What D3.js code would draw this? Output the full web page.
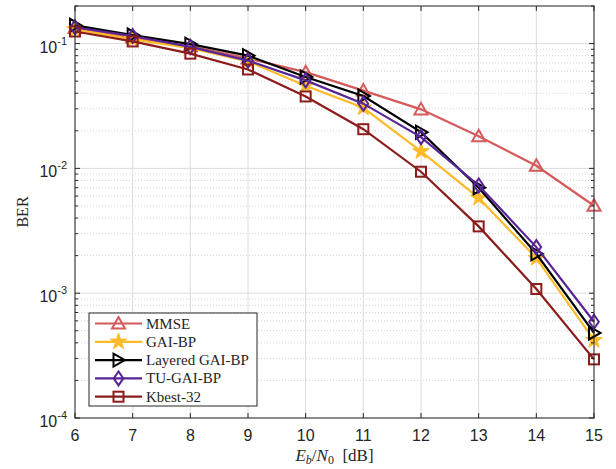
<!DOCTYPE html>
<html>
<head>
<meta charset="utf-8">
<script src="https://cdn.jsdelivr.net/npm/d3@7"></script>
<style>
  body { margin: 0; background: #fff; }
  svg { display: block; }
</style>
</head>
<body>
<svg width="616" height="469"></svg>
<script>
// data
var snr = [6, 7, 8, 9, 10, 11, 12, 13, 14, 15];
var mmse    = [0.133, 0.112, 0.095, 0.076, 0.059, 0.042, 0.0297, 0.0181, 0.0105, 0.00502];
var gaiBP   = [0.130, 0.108, 0.092, 0.072, 0.046, 0.0306, 0.0137, 0.0058, 0.00191, 0.00042];
var layered = [0.140, 0.117, 0.099, 0.080, 0.054, 0.038, 0.0195, 0.0070, 0.00207, 0.00048];
var tuGAI   = [0.135, 0.115, 0.094, 0.073, 0.0507, 0.033, 0.0178, 0.0073, 0.00234, 0.00059];
var kbest   = [0.125, 0.104, 0.083, 0.062, 0.0377, 0.0206, 0.0094, 0.00343, 0.00108, 0.000295];
var seriesNames = ['MMSE', 'GAI-BP', 'Layered GAI-BP', 'TU-GAI-BP', 'Kbest-32'];
var xTicks = [6, 7, 8, 9, 10, 11, 12, 13, 14, 15];
var yTicks = [-4, -3, -2, -1];

var series = [
  {name: seriesNames[0], values: mmse, color: '#d45a5c', marker: 'tri'},
  {name: seriesNames[1], values: gaiBP, color: '#fdbb2a', marker: 'star'},
  {name: seriesNames[2], values: layered, color: '#000000', marker: 'right'},
  {name: seriesNames[3], values: tuGAI, color: '#582596', marker: 'diamond'},
  {name: seriesNames[4], values: kbest, color: '#8c1c1c', marker: 'square'}
];

var svg = d3.select('svg');
var margin = {top: 6, left: 75, right: 22, bottom: 51};
var width = 616, height = 469;
var innerWidth = width - margin.left - margin.right;
var innerHeight = height - margin.top - margin.bottom;

var x = d3.scaleLinear().domain([6, 15]).range([0, innerWidth]);
var y = d3.scaleLog().domain([1e-4, 0.2]).range([innerHeight, 0]);

var g = svg.append('g').attr('transform', 'translate(' + margin.left + ',' + margin.top + ')');

// minor grid (dotted)
var minor = [];
for (var e = -4; e <= -1; e++) {
  for (var m = 2; m <= 9; m++) {
    var v = m * Math.pow(10, e);
    if (v <= 0.2) minor.push(v);
  }
}
g.selectAll('.minor').data(minor).enter().append('line')
  .attr('x1', 0).attr('x2', innerWidth)
  .attr('y1', d => y(d)).attr('y2', d => y(d))
  .attr('stroke', '#c8c8c8').attr('stroke-width', 0.8)
  .attr('stroke-dasharray', '1,2');

// major grid
g.selectAll('.gx').data(xTicks).enter().append('line')
  .attr('x1', d => x(d)).attr('x2', d => x(d))
  .attr('y1', 0).attr('y2', innerHeight)
  .attr('stroke', '#dcdcdc').attr('stroke-width', 1);
g.selectAll('.gy').data(yTicks).enter().append('line')
  .attr('x1', 0).attr('x2', innerWidth)
  .attr('y1', d => y(Math.pow(10, d))).attr('y2', d => y(Math.pow(10, d)))
  .attr('stroke', '#dcdcdc').attr('stroke-width', 1);

// markers
var star = d3.symbol().type(d3.symbolStar).size(85);
function drawMarker(sel, type, color) {
  if (type === 'tri') {
    sel.append('path').attr('d', 'M0,-6.5L6.5,5L-6.5,5Z')
      .attr('fill', 'none').attr('stroke', color).attr('stroke-width', 2);
  } else if (type === 'star') {
    sel.append('path').attr('d', star()).attr('fill', color).attr('stroke', color).attr('stroke-width', 1);
  } else if (type === 'right') {
    sel.append('path').attr('d', 'M6.5,0L-5,-6.5L-5,6.5Z')
      .attr('fill', 'none').attr('stroke', color).attr('stroke-width', 2);
  } else if (type === 'diamond') {
    sel.append('path').attr('d', 'M0,-7L4.8,0L0,7L-4.8,0Z')
      .attr('fill', 'none').attr('stroke', color).attr('stroke-width', 2);
  } else {
    sel.append('rect').attr('x', -5).attr('y', -5).attr('width', 10).attr('height', 10)
      .attr('fill', 'none').attr('stroke', color).attr('stroke-width', 2);
  }
}

var line = d3.line().x((d, i) => x(snr[i])).y(d => y(d));
series.forEach(function (s) {
  g.append('path').datum(s.values)
    .attr('d', line).attr('fill', 'none')
    .attr('stroke', s.color).attr('stroke-width', 2.2);
  s.values.forEach(function (v, i) {
    var mg = g.append('g').attr('transform', 'translate(' + x(snr[i]) + ',' + y(v) + ')');
    drawMarker(mg, s.marker, s.color);
  });
});

// box + ticks
g.append('rect').attr('width', innerWidth).attr('height', innerHeight)
  .attr('fill', 'none').attr('stroke', '#262626').attr('stroke-width', 1);

var tickLen = 5;
xTicks.forEach(function (t) {
  g.append('line').attr('x1', x(t)).attr('x2', x(t)).attr('y1', innerHeight).attr('y2', innerHeight - tickLen).attr('stroke', '#262626');
  g.append('line').attr('x1', x(t)).attr('x2', x(t)).attr('y1', 0).attr('y2', tickLen).attr('stroke', '#262626');
  g.append('text').attr('x', x(t)).attr('y', innerHeight + 23)
    .attr('text-anchor', 'middle').attr('font-family', 'Liberation Sans, Arial, sans-serif')
    .attr('font-size', 16).attr('fill', '#262626').text(t);
});
minor.forEach(function (v) {
  g.append('line').attr('x1', 0).attr('x2', 3).attr('y1', y(v)).attr('y2', y(v)).attr('stroke', '#262626');
  g.append('line').attr('x1', innerWidth).attr('x2', innerWidth - 3).attr('y1', y(v)).attr('y2', y(v)).attr('stroke', '#262626');
});
yTicks.forEach(function (t) {
  var yy = y(Math.pow(10, t));
  g.append('line').attr('x1', 0).attr('x2', tickLen).attr('y1', yy).attr('y2', yy).attr('stroke', '#262626');
  g.append('line').attr('x1', innerWidth).attr('x2', innerWidth - tickLen).attr('y1', yy).attr('y2', yy).attr('stroke', '#262626');
  var tx = g.append('text').attr('x', -8).attr('y', yy + 9)
    .attr('text-anchor', 'end').attr('font-family', 'Liberation Sans, Arial, sans-serif')
    .attr('font-size', 16).attr('fill', '#262626');
  tx.append('tspan').text('10');
  tx.append('tspan').attr('dy', -8).attr('font-size', 11).text('-' + (-t));
});

// axis labels
var xl = svg.append('text').attr('x', margin.left + innerWidth / 2).attr('y', 461)
  .attr('text-anchor', 'middle').attr('font-family', 'Liberation Serif, Times New Roman, serif')
  .attr('font-size', 17).attr('fill', '#262626');
xl.append('tspan').attr('font-style', 'italic').text('E');
xl.append('tspan').attr('font-size', 12).attr('font-style', 'italic').attr('dy', 3).text('b');
xl.append('tspan').attr('dy', -3).text('/');
xl.append('tspan').attr('font-style', 'italic').text('N');
xl.append('tspan').attr('font-size', 12).attr('dy', 3).text('0');
xl.append('tspan').attr('dy', -3).text('\u2002[dB]');

svg.append('text').attr('transform', 'translate(28,' + (margin.top + innerHeight / 2) + ') rotate(-90)')
  .attr('text-anchor', 'middle').attr('font-family', 'Liberation Serif, Times New Roman, serif')
  .attr('font-size', 16).attr('fill', '#262626').text('BER');

// legend
var lg = svg.append('g').attr('transform', 'translate(89,313)');
lg.append('rect').attr('width', 168).attr('height', 93)
  .attr('fill', '#fff').attr('stroke', '#262626').attr('stroke-width', 1);
series.forEach(function (s, i) {
  var ly = 10.5 + i * 18.3;
  lg.append('line').attr('x1', 6).attr('x2', 53).attr('y1', ly).attr('y2', ly)
    .attr('stroke', s.color).attr('stroke-width', 2.2);
  var mg = lg.append('g').attr('transform', 'translate(29.5,' + ly + ')');
  drawMarker(mg, s.marker, s.color);
  lg.append('text').attr('x', 57).attr('y', ly + 5)
    .attr('font-family', 'Liberation Serif, Times New Roman, serif')
    .attr('font-size', 15).attr('fill', '#262626').text(s.name);
});
</script>
</body>
</html>
